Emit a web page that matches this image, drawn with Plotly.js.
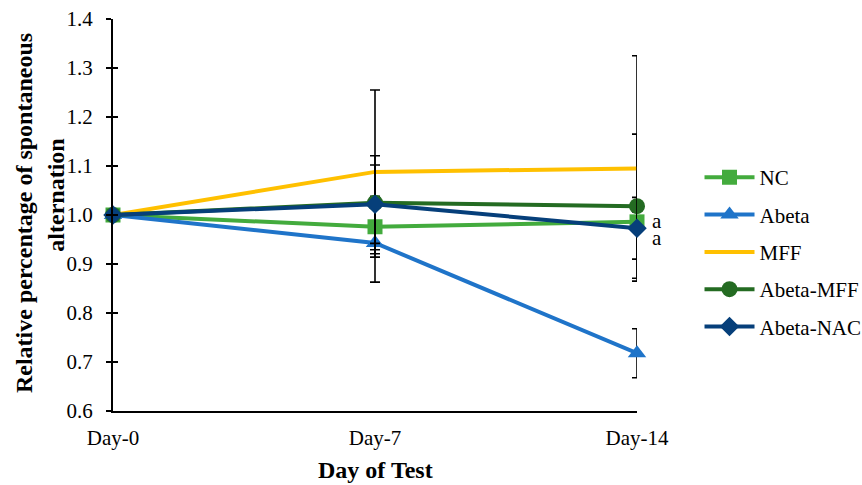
<!DOCTYPE html>
<html>
<head>
<meta charset="utf-8">
<script src="https://cdn.plot.ly/plotly-3.0.1.min.js"></script>
<style>html,body{margin:0;padding:0;background:#fff;}#chart{width:862px;height:485px;}</style>
</head>
<body>
<div id="chart"></div>
<script>
var days = ["Day-0", "Day-7", "Day-14"];
var seriesNames = ["NC", "Abeta", "MFF", "Abeta-MFF", "Abeta-NAC"];
var ncValues = [1.0, 0.976, 0.986];
var abetaValues = [1.0, 0.943, 0.718];
var mffValues = [1.0, 1.088, 1.095];
var abetaMffValues = [1.0, 1.025, 1.018];
var abetaNacValues = [1.0, 1.022, 0.973];
var ncErrors = [NaN, 0.062, 0.02];
var abetaErrors = [NaN, 0.08, 0.05];
var mffErrors = [NaN, 0.167, 0.23];
var abetaMffErrors = [NaN, 0.096, 0.147];
var abetaNacErrors = [NaN, 0.08, 0.063];
var yTickVals = [0.6, 0.7, 0.8, 0.9, 1.0, 1.1, 1.2, 1.3, 1.4];
var yTickText = ["0.6", "0.7", "0.8", "0.9", "1.0", "1.1", "1.2", "1.3", "1.4"];
var sigLabels = ["a", "a"];
var sigValues = [0.988, 0.953];
var yTitleLines = ["Relative percentage of spontaneous", "alternation"];
var xTitle = "Day of Test";

var serif = "Liberation Serif, Times New Roman, serif";
var colors = ["#43ab3d", "#1f74c9", "#ffc000", "#246b22", "#063f7a"];
var symbols = ["square", "triangle-up", "circle", "circle", "diamond"];
var values = [ncValues, abetaValues, mffValues, abetaMffValues, abetaNacValues];
var errors = [ncErrors, abetaErrors, mffErrors, abetaMffErrors, abetaNacErrors];
var modes = ["lines+markers", "lines+markers", "lines", "lines+markers", "lines+markers"];
var sizes = [15, 16, 15, 16, 15];

var traces = seriesNames.map(function (name, i) {
  return {
    type: "scatter",
    x: days,
    y: values[i],
    name: name,
    mode: modes[i],
    legendgroup: name,
    cliponaxis: false,
    line: {color: colors[i], width: 4},
    marker: {symbol: symbols[i], size: sizes[i], color: colors[i]},
    error_y: {type: "data", array: errors[i], visible: true, color: "#000", thickness: 1.6, width: 5}
  };
});

var annotations = sigLabels.map(function (t, i) {
  return {x: "Day-14", y: sigValues[i], xref: "x", yref: "y", text: t, showarrow: false,
    xanchor: "left", xshift: 13, font: {family: serif, size: 21, color: "#000"}};
});
annotations.push({
  x: -0.1698, y: 0.505, xref: "paper", yref: "paper", xanchor: "center", yanchor: "middle",
  text: "<b>" + yTitleLines[0] + "</b>", showarrow: false, textangle: -90,
  font: {family: serif, size: 24, color: "#000"}
});
annotations.push({
  x: -0.1095, y: 0.551, xref: "paper", yref: "paper", xanchor: "center", yanchor: "middle",
  text: "<b>" + yTitleLines[1] + "</b>", showarrow: false, textangle: -90,
  font: {family: serif, size: 24, color: "#000"}
});
annotations.push({
  x: 0.5, y: -0.1505, xref: "paper", yref: "paper", xanchor: "center", yanchor: "middle",
  text: "<b>" + xTitle + "</b>", showarrow: false,
  font: {family: serif, size: 24, color: "#000"}
});

var layout = {
  width: 862, height: 485,
  margin: {l: 113, r: 225, t: 19, b: 74},
  paper_bgcolor: "#fff", plot_bgcolor: "#fff",
  font: {family: serif, size: 21, color: "#000"},
  showlegend: true,
  legend: {
    xref: "container", yref: "container", x: 0.8115, y: 0.676, xanchor: "left", yanchor: "top",
    font: {family: serif, size: 21, color: "#000"},
    traceorder: "grouped", tracegroupgap: 7, itemwidth: 50, bgcolor: "rgba(0,0,0,0)"
  },
  xaxis: {
    type: "category", range: [0, 2], showgrid: false, zeroline: false,
    showline: true, linecolor: "#000", linewidth: 2, ticks: "", ticklabelstandoff: 7,
    tickfont: {family: serif, size: 21, color: "#000"}
  },
  yaxis: {
    range: [0.6, 1.4], tickvals: yTickVals, ticktext: yTickText, showgrid: false, zeroline: false,
    showline: true, linecolor: "#000", linewidth: 2, ticks: "outside", ticklen: 5, tickwidth: 1.2, tickcolor: "#000",
    ticklabelstandoff: 9,
    tickfont: {family: serif, size: 21, color: "#000"}
  },
  yaxis2: {
    overlaying: "y", range: [0.6, 1.4], tickvals: yTickVals, showticklabels: false, showgrid: false,
    zeroline: false, ticks: "inside", ticklen: 5, tickwidth: 1.2, tickcolor: "#000", side: "left"
  },
  annotations: annotations
};

traces.push({type: "scatter", x: [], y: [], yaxis: "y2", showlegend: false, hoverinfo: "skip"});

Plotly.newPlot("chart", traces, layout, {displayModeBar: false, staticPlot: true});
</script>
</body>
</html>
